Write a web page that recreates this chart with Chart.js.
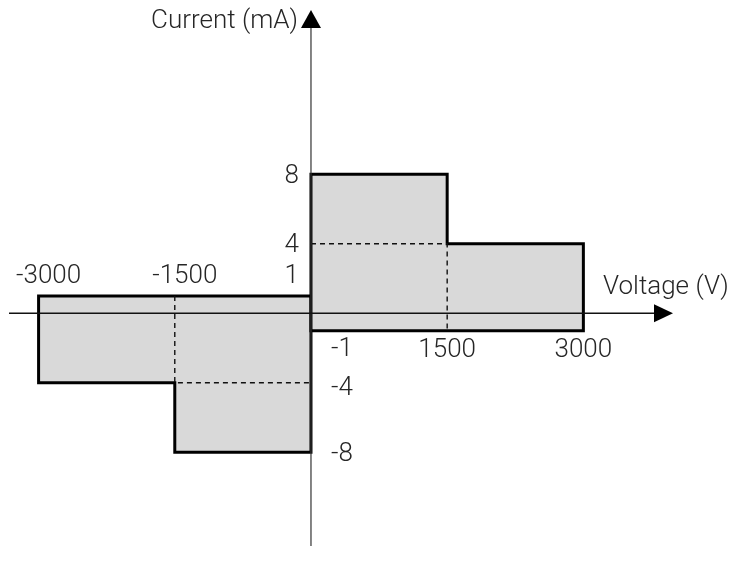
<!DOCTYPE html>
<html lang="en">
<head>
  <meta charset="UTF-8" />
  <title>Voltage / Current operating region</title>
  <script src="https://cdn.jsdelivr.net/npm/chart.js"></script>
  <style>
    html, body {
      margin: 0;
      padding: 0;
      background: #ffffff;
    }
    canvas {
      display: block;
    }
  </style>
</head>
<body>
  <canvas id="grafico" width="735" height="573"></canvas>

  <script>
    // region outlines (voltage in V, current in mA)
    const rightRegionV = [1500, 0, 0, 1500, 1500, 3000, 3000, 1500];
    const rightRegionI = [-1, -1, 8, 8, 4, 4, -1, -1];
    const leftRegionV = [-1500, 0, 0, -1500, -1500, -3000, -3000, -1500];
    const leftRegionI = [1, 1, -8, -8, -4, -4, 1, 1];

    // dashed inner limits
    const rightDashV = [0, 1500, 1500];
    const rightDashI = [4, 4, -1];
    const leftDashV = [-1500, -1500, 0];
    const leftDashI = [1, -4, -4];

    // tick labels
    const xTicks = [-3000, -1500, 1500, 3000];
    const xTickLabels = ["-3000", "-1500", "1500", "3000"];
    const yTicks = [8, 4, 1, -1, -4, -8];
    const yTickLabels = ["8", "4", "1", "-1", "-4", "-8"];

    const xTitle = "Voltage (V)";
    const yTitle = "Current (mA)";

    const toPoints = (xs, ys) => xs.map((x, i) => ({ x: x, y: ys[i] }));

    const FONT = '300 26px Roboto, "Noto Sans", sans-serif';
    const TEXT = '#262626';

    const ejes = {
      id: 'ejes',
      afterDatasetsDraw(chart) {
        const ctx = chart.ctx;
        const sx = chart.scales.x;
        const sy = chart.scales.y;
        const x0 = sx.getPixelForValue(0);
        const y0 = sy.getPixelForValue(0);

        ctx.save();

        // y axis
        ctx.strokeStyle = '#333333';
        ctx.lineWidth = 1.2;
        ctx.beginPath();
        ctx.moveTo(x0, 546);
        ctx.lineTo(x0, 26);
        ctx.stroke();
        ctx.fillStyle = '#000000';
        ctx.beginPath();
        ctx.moveTo(x0, 10);
        ctx.lineTo(x0 + 10, 28);
        ctx.lineTo(x0 - 10, 28);
        ctx.closePath();
        ctx.fill();

        // x axis
        ctx.strokeStyle = '#111111';
        ctx.lineWidth = 1.5;
        ctx.beginPath();
        ctx.moveTo(9, y0);
        ctx.lineTo(656, y0);
        ctx.stroke();
        ctx.beginPath();
        ctx.moveTo(673, y0);
        ctx.lineTo(654, y0 - 9);
        ctx.lineTo(654, y0 + 9);
        ctx.closePath();
        ctx.fill();

        // texts
        ctx.font = FONT;
        ctx.fillStyle = TEXT;
        ctx.textBaseline = 'middle';

        xTicks.forEach((v, i) => {
          ctx.textAlign = 'center';
          if (v < 0) {
            ctx.fillText(xTickLabels[i], sx.getPixelForValue(v) + 10, sy.getPixelForValue(1) - 19);
          } else {
            ctx.fillText(xTickLabels[i], sx.getPixelForValue(v), sy.getPixelForValue(-1) + 20);
          }
        });

        yTicks.forEach((v, i) => {
          let y = sy.getPixelForValue(v) + 2;
          if (v === 1) y = sy.getPixelForValue(v) - 19;
          if (v === -1) y = sy.getPixelForValue(v) + 19;
          if (v === -4) y = sy.getPixelForValue(v) + 6;
          if (v > 0) {
            ctx.textAlign = 'right';
            ctx.fillText(yTickLabels[i], x0 - 12, y);
          } else {
            ctx.textAlign = 'left';
            ctx.fillText(yTickLabels[i], x0 + 20, y);
          }
        });

        ctx.textAlign = 'right';
        ctx.fillText(yTitle, x0 - 13, 21);
        ctx.textAlign = 'left';
        ctx.fillText(xTitle, 603, y0 - 26);

        ctx.restore();
      }
    };

    const region = (xs, ys) => ({
      data: toPoints(xs, ys),
      showLine: true,
      fill: 'shape',
      backgroundColor: '#d9d9d9',
      borderColor: '#000000',
      borderWidth: 3,
      borderJoinStyle: 'miter',
      pointRadius: 0,
      tension: 0,
      order: 1
    });

    const dashed = (xs, ys) => ({
      data: toPoints(xs, ys),
      showLine: true,
      fill: false,
      borderColor: '#111111',
      borderWidth: 1.4,
      borderDash: [5, 4],
      pointRadius: 0,
      tension: 0,
      order: 0
    });

    new Chart(document.getElementById('grafico'), {
      type: 'scatter',
      data: {
        datasets: [
          region(rightRegionV, rightRegionI),
          region(leftRegionV, leftRegionI),
          dashed(rightDashV, rightDashI),
          dashed(leftDashV, leftDashI)
        ]
      },
      options: {
        responsive: false,
        animation: false,
        layout: { padding: 0, autoPadding: false },
        scales: {
          x: { type: 'linear', display: false, min: -3425, max: 4670 },
          y: { type: 'linear', display: false, min: -14.95, max: 18.03 }
        },
        plugins: {
          legend: { display: false },
          tooltip: { enabled: false }
        }
      },
      plugins: [ejes]
    });
  </script>
</body>
</html>
